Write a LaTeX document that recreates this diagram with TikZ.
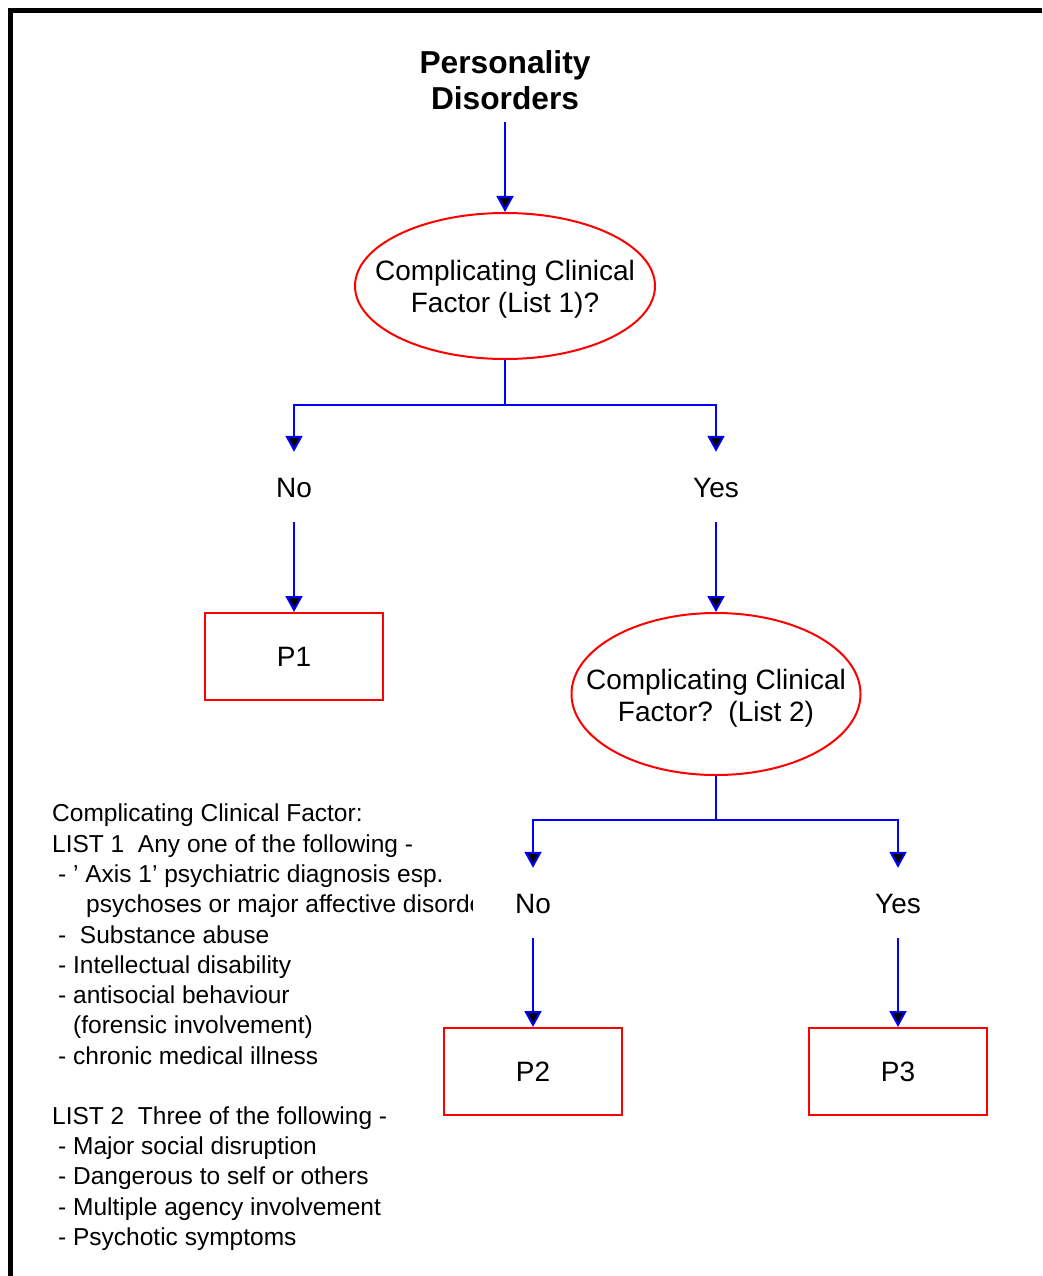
\documentclass[tikz,border=0pt]{standalone}
\usepackage{fontspec}
\setmainfont{Liberation Sans}
\usetikzlibrary{arrows.meta,shapes.geometric}

\tikzset{
  flow/.style={draw=blue, line width=2pt},
  arr/.style={flow, -{Triangle[length=16pt,width=17pt,fill=black]}},
  decision/.style={draw=red, line width=2pt, ellipse, inner sep=0pt},
  outcome/.style={draw=red, line width=2pt, rectangle, inner sep=0pt,
    minimum width=178pt, minimum height=87pt,
    font=\fontsize{28}{32}\selectfont, text height=20pt, text depth=0pt},
  answer/.style={inner sep=0pt, minimum height=70pt,
    font=\fontsize{28}{32}\selectfont, text height=20pt, text depth=0pt},
  qtext/.style={inner sep=0pt, align=center, font=\fontsize{28}{32}\selectfont},
  listline/.style={anchor=base west, inner sep=0pt, font=\fontsize{24.5}{30}\selectfont},
}

\begin{document}
\begin{tikzpicture}[x=1pt, y=-1pt]
\useasboundingbox (0,0) rectangle (1042,1276);

% frame along the top and left edges
\draw[line width=4.5pt, line join=miter] (10.5,1276) -- (10.5,10.5) -- (1042,10.5);

% title
\node[inner sep=0pt, align=center, font=\bfseries\fontsize{31.7}{35.5}\selectfont]
  (title) at (505,80) {Personality\\Disorders};
\coordinate (tstart) at (505,122);

% first decision
\node[decision, minimum width=300pt, minimum height=146pt] (e1) at (505,286) {};
\node[qtext] (q1) at (505,289.5) {Complicating Clinical\\Factor (List 1)?};
\draw[arr] (tstart) -- (e1.north);

\coordinate (j1) at (505,405);
\node[answer] (no1) at (294,487) {No};
\node[answer] (yes1) at (716,487) {Yes};
\draw[flow] (e1.south) -- (j1);
\draw[arr] (j1) -| (no1.north);
\draw[arr] (j1) -| (yes1.north);

\node[outcome] (p1) at (294,656.5) {P1};
\draw[arr] (no1.south) -- (p1.north);

% second decision
\node[decision, minimum width=289pt, minimum height=162pt] (e2) at (716,694) {};
\node[qtext] (q2) at (716,698) {Complicating Clinical\\Factor?\ \ (List 2)};
\draw[arr] (yes1.south) -- (e2.north);

\coordinate (j2) at (716,820);
\node[answer] (no2) at (533,903) {No};
\node[answer] (yes2) at (898,903) {Yes};
\draw[flow] (e2.south) -- (j2);
\draw[arr] (j2) -| (no2.north);
\draw[arr] (j2) -| (yes2.north);

\node[outcome] (p2) at (533,1071.5) {P2};
\node[outcome] (p3) at (898,1071.5) {P3};
\draw[arr] (no2.south) -- (p2.north);
\draw[arr] (yes2.south) -- (p3.north);

% key to the lists of factors
\node[listline] (l1) at (52,821) {Complicating Clinical Factor:};
\node[listline] (l2) at (52,852) {LIST 1\ \ Any one of the following -};
\node[listline] (l3) at (58,882) {- ’ Axis 1’ psychiatric diagnosis esp.};
\begin{scope}
  \clip (40,885) rectangle (472,925);
  \node[listline] (l4) at (86,912) {psychoses or major affective disorders};
\end{scope}
\node[listline] (l5) at (58,943) {-\ \ Substance abuse};
\node[listline] (l6) at (58,973) {- Intellectual disability};
\node[listline] (l7) at (58,1003) {- antisocial behaviour};
\node[listline] (l8) at (73,1033) {(forensic involvement)};
\node[listline] (l9) at (58,1064) {- chronic medical illness};
\node[listline] (l10) at (52,1124) {LIST 2\ \ Three of the following -};
\node[listline] (l11) at (58,1154) {- Major social disruption};
\node[listline] (l12) at (58,1184) {- Dangerous to self or others};
\node[listline] (l13) at (58,1215) {- Multiple agency involvement};
\node[listline] (l14) at (58,1245) {- Psychotic symptoms};
\end{tikzpicture}
\end{document}
